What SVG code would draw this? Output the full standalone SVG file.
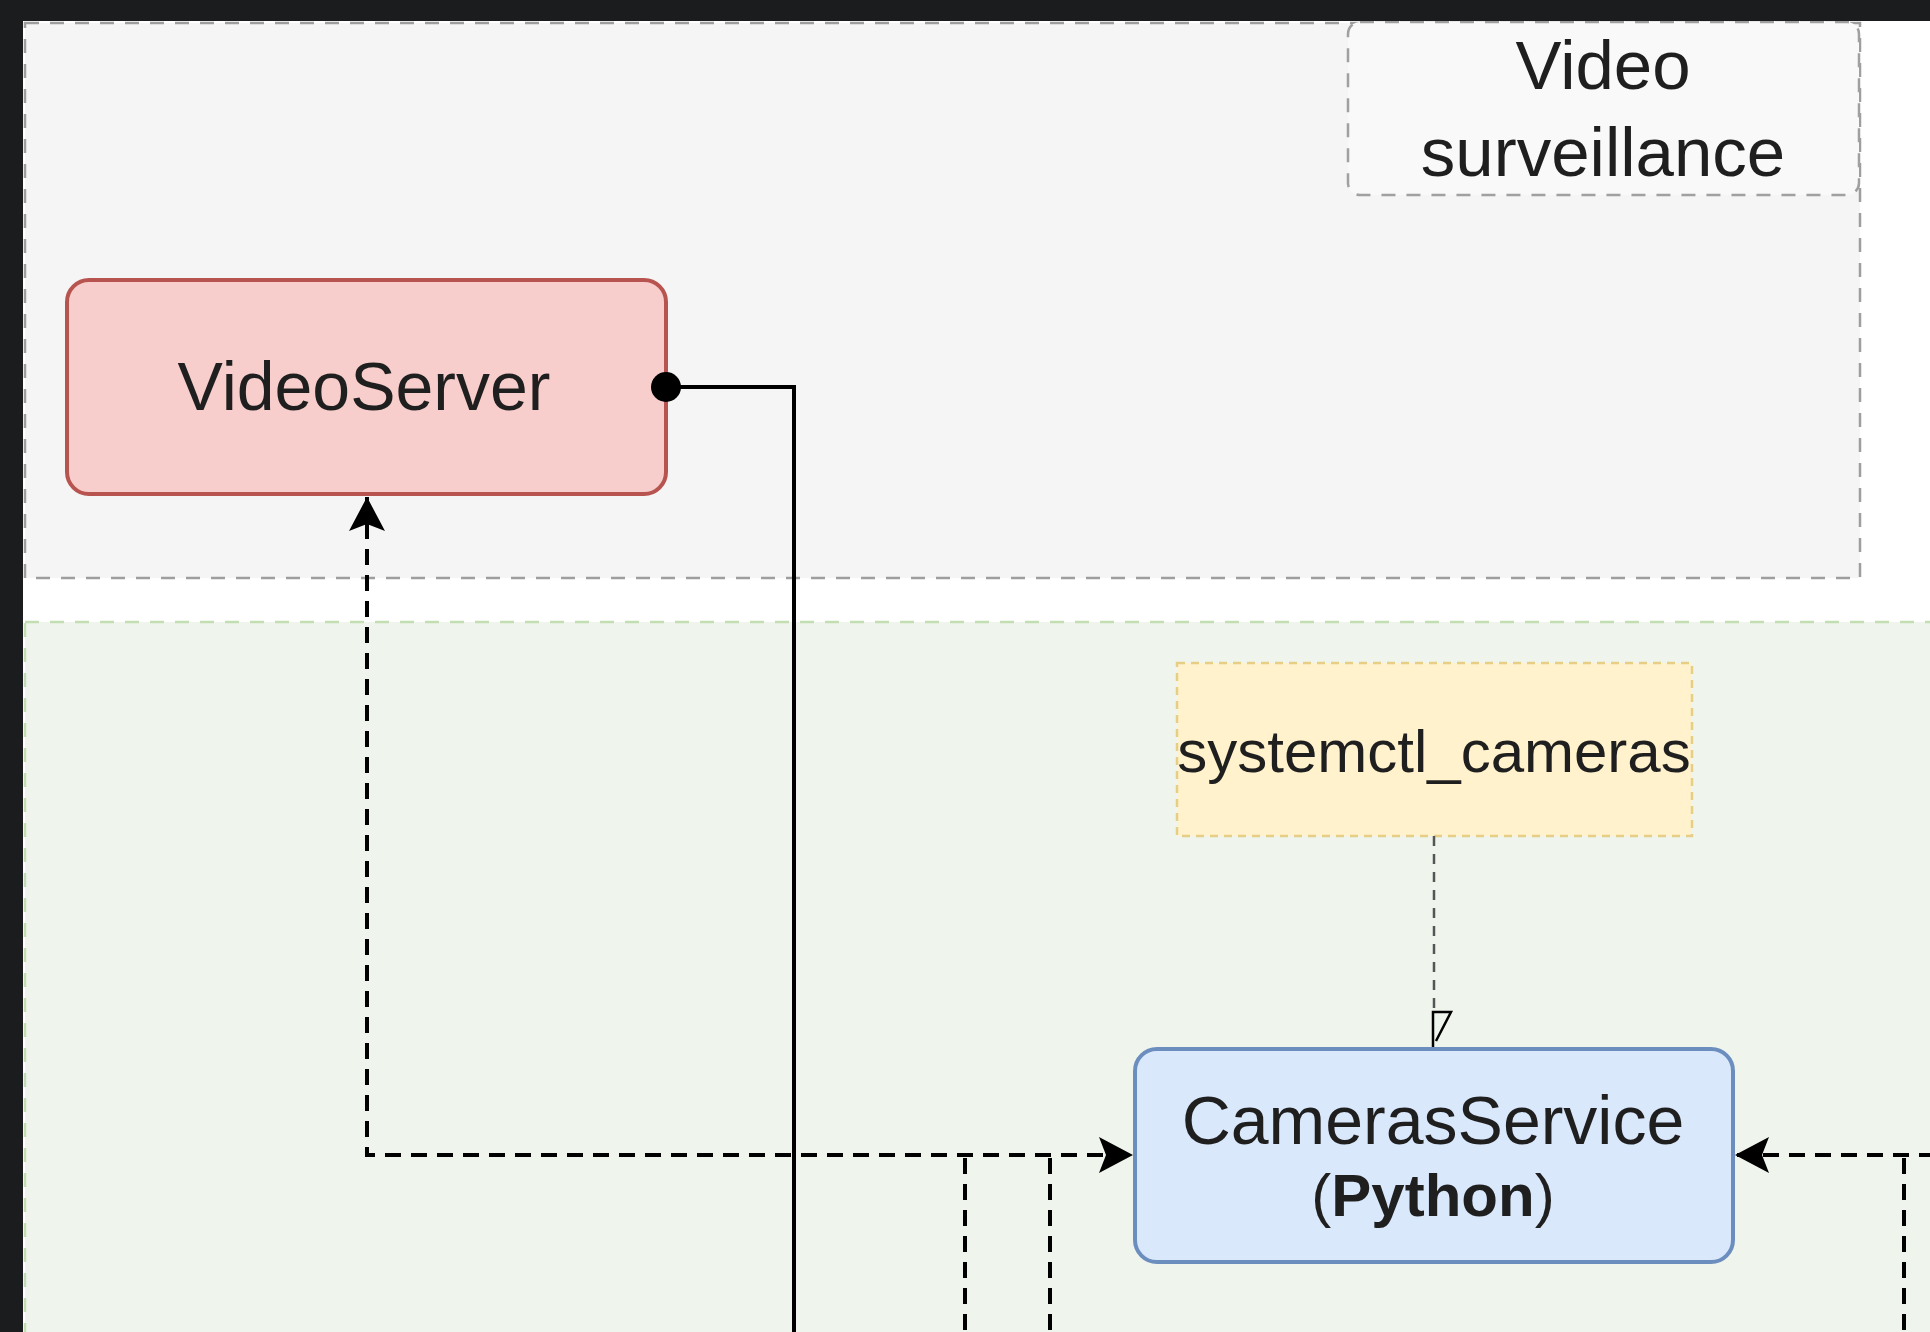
<svg xmlns="http://www.w3.org/2000/svg" width="1930" height="1332" viewBox="0 0 1930 1332">
<style>
.txt{font-family:"Liberation Sans",Arial,Helvetica,sans-serif;fill:#1f1f1f;text-anchor:middle}
.conn{fill:none;stroke:#000;stroke-width:4}
.dash{stroke-dasharray:16 10}
.container{stroke-width:2.5;stroke-dasharray:14 11}
</style>
<defs>
<marker id="arrow" markerUnits="userSpaceOnUse" markerWidth="36" markerHeight="40" viewBox="0 0 36 40" refX="34" refY="20" orient="auto-start-reverse">
<path d="M0,2 L34,20 L0,38 L7,20 Z" fill="#000"/>
</marker>
</defs>
<rect x="0" y="0" width="1930" height="1332" fill="#ffffff"/>
<g id="container-video-surveillance">
<rect class="container" x="25" y="23" width="1835" height="555" fill="#f5f5f5" stroke="#9e9e9e"/>
<rect x="1348" y="22" width="511" height="173" rx="12" fill="#f9f9f9" stroke="#a0a0a0" stroke-width="2.5" stroke-dasharray="14 11"/>
<text class="txt" x="1603" y="89" font-size="69">Video</text>
<text class="txt" x="1603" y="176" font-size="69">surveillance</text>
</g>
<g id="container-green">
<rect class="container" x="25" y="622" width="1915" height="730" fill="#eff5ec" stroke="#c2deb2"/>
</g>
<g id="node-videoserver">
<rect x="67" y="280" width="599" height="214" rx="22" fill="#f8cecc" stroke="#b85450" stroke-width="4"/>
<text class="txt" x="364" y="410" font-size="68">VideoServer</text>
</g>
<g id="node-systemctl-cameras">
<rect x="1177" y="663" width="515" height="173" fill="#fff2cc" stroke="#e6cf85" stroke-width="2.5" stroke-dasharray="8 6"/>
<text class="txt" x="1434" y="772" font-size="60">systemctl_cameras</text>
</g>
<g id="node-camerasservice">
<rect x="1135" y="1049" width="598" height="213" rx="22" fill="#dae8fc" stroke="#6c8ebf" stroke-width="4"/>
<text class="txt" x="1433" y="1144" font-size="68">CamerasService</text>
<text class="txt" x="1433" y="1216" font-size="60">(<tspan font-weight="bold">Python</tspan>)</text>
</g>
<g id="connectors">
<path class="conn" d="M666,387 H794 V1340"/>
<circle cx="666" cy="387" r="15" fill="#000"/>
<path class="conn dash" d="M367,497 V1155 H1133" marker-start="url(#arrow)" marker-end="url(#arrow)"/>
<path class="conn dash" d="M965,1158 V1340"/>
<path class="conn dash" d="M1050,1158 V1340"/>
<path class="conn dash" d="M1935,1155 H1735" marker-end="url(#arrow)"/>
<path class="conn dash" d="M1904,1158 V1340"/>
<path fill="none" stroke="#555" stroke-width="2.5" stroke-dasharray="10 8" d="M1434,836 V1012"/>
<path fill="none" stroke="#000" stroke-width="2.5" d="M1433,1047 V1012 H1451 L1436,1041"/>
</g>
<g id="frame">
<rect x="0" y="0" width="1930" height="21" fill="#1b1c1e"/>
<rect x="0" y="0" width="23" height="1332" fill="#1b1c1e"/>
</g>
</svg>
